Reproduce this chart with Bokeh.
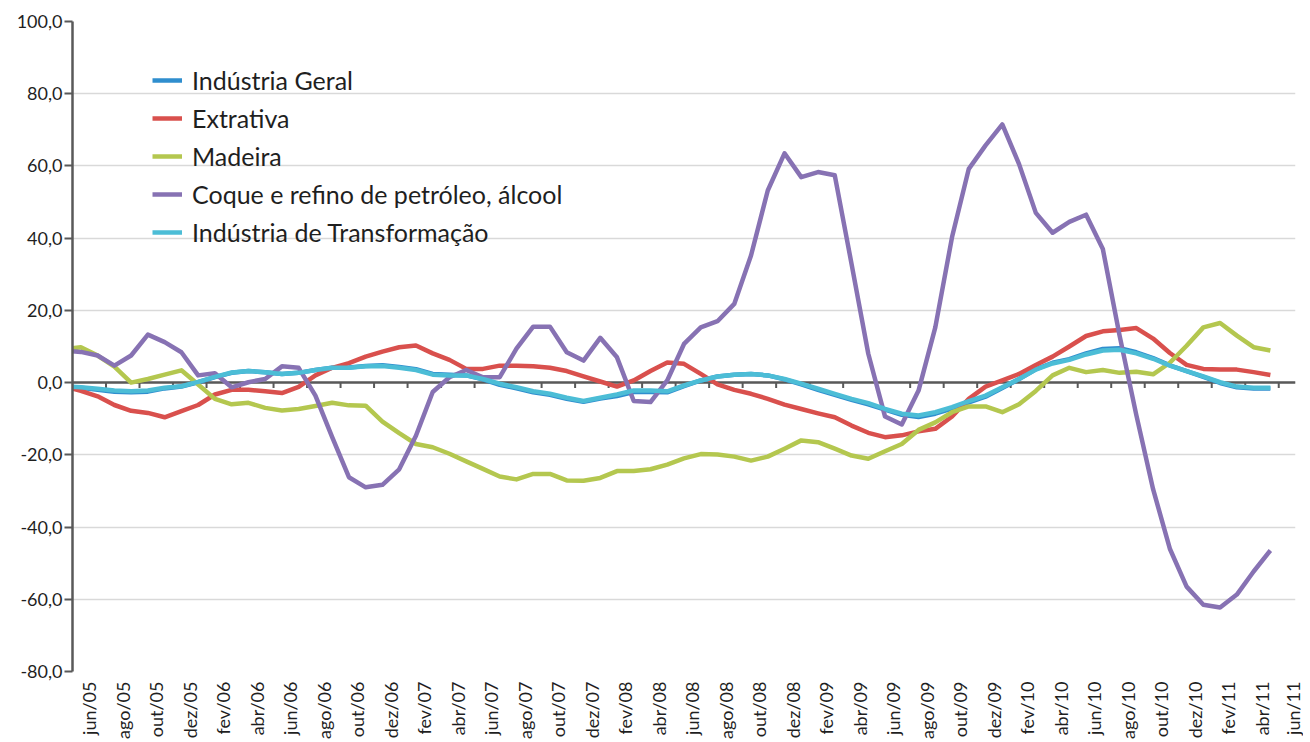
import math
from bokeh.plotting import figure
from bokeh.models import Span, FixedTicker, Legend, LegendItem, Range1d
from bokeh.embed import file_html
from bokeh.resources import INLINE

# x tick labels (every two months), from jun/05 to jun/11
x_labels = ["jun/05", "ago/05", "out/05", "dez/05", "fev/06", "abr/06", "jun/06", "ago/06",
            "out/06", "dez/06", "fev/07", "abr/07", "jun/07", "ago/07", "out/07", "dez/07",
            "fev/08", "abr/08", "jun/08", "ago/08", "out/08", "dez/08", "fev/09", "abr/09",
            "jun/09", "ago/09", "out/09", "dez/09", "fev/10", "abr/10", "jun/10", "ago/10",
            "out/10", "dez/10", "fev/11", "abr/11", "jun/11"]

y_ticks = [-80, -60, -40, -20, 0, 20, 40, 60, 80, 100]

# monthly observations: month offset relative to jun/05 (mai/05 .. mai/11)
months = list(range(-1, 72))

industria_geral = [-1.0, -1.4, -2.0, -2.5, -2.7, -2.5, -1.6, -1.1, 0.1, 1.5,
                   2.7, 3.2, 2.9, 2.4, 2.7, 3.5, 4.1, 4.2, 4.6, 4.8,
                   4.3, 3.7, 2.4, 2.2, 2.0, 0.9, -0.6, -1.6, -2.7, -3.4,
                   -4.5, -5.3, -4.4, -3.7, -2.6, -2.6, -2.7, -1.0, 0.6, 1.7,
                   2.2, 2.4, 2.0, 0.9, -0.5, -2.0, -3.4, -4.8, -6.0, -7.5,
                   -8.9, -9.5, -8.6, -7.2, -5.5, -3.9, -1.5, 1.0, 3.7, 5.5,
                   6.5, 8.1, 9.3, 9.5, 8.4, 6.8, 4.8, 3.2, 1.6, -0.1,
                   -1.3, -1.6, -1.6]

extrativa = [-1.0, -2.3, -3.8, -6.2, -7.8, -8.4, -9.6, -7.9, -6.2, -3.3,
             -2.0, -2.0, -2.4, -2.9, -1.2, 2.0, 4.1, 5.4, 7.2, 8.6,
             9.8, 10.3, 8.1, 6.3, 3.8, 3.8, 4.7, 4.7, 4.5, 4.1,
             3.2, 1.7, 0.3, -1.1, 0.6, 3.2, 5.6, 5.2, 2.4, -0.5,
             -2.0, -3.1, -4.5, -6.1, -7.3, -8.5, -9.6, -11.9, -13.9, -15.1,
             -14.6, -13.5, -12.8, -9.4, -4.5, -1.1, 0.6, 2.4, 4.9, 7.2,
             10.0, 12.9, 14.2, 14.6, 15.1, 12.2, 8.2, 4.9, 3.8, 3.6,
             3.6, 2.9, 2.1]

madeira = [9.2, 9.8, 7.5, 4.4, 0.0, 1.0, 2.2, 3.4, -0.5, -4.5,
           -6.0, -5.6, -7.0, -7.7, -7.3, -6.5, -5.6, -6.3, -6.4, -10.8,
           -14.0, -17.0, -17.9, -19.7, -21.8, -23.9, -26.0, -26.8, -25.3, -25.3,
           -27.1, -27.2, -26.4, -24.5, -24.5, -24.0, -22.7, -21.0, -19.8, -19.9,
           -20.5, -21.6, -20.5, -18.3, -16.0, -16.5, -18.3, -20.2, -21.1, -19.0,
           -17.0, -13.1, -11.0, -8.2, -6.6, -6.6, -8.2, -6.0, -2.3, 2.0,
           4.1, 2.9, 3.5, 2.7, 3.0, 2.3, 5.5, 10.2, 15.3, 16.5,
           13.0, 9.8, 8.9]

coque = [8.8, 8.5, 7.5, 4.7, 7.5, 13.3, 11.2, 8.4, 2.0, 2.6,
         -1.3, 0.1, 1.0, 4.5, 4.1, -3.6, -15.1, -26.2, -29.0, -28.3,
         -24.0, -14.7, -2.6, 1.5, 3.5, 1.5, 1.5, 9.4, 15.5, 15.5,
         8.4, 6.1, 12.4, 7.0, -5.1, -5.4, 0.6, 10.7, 15.3, 17.0,
         21.8, 35.2, 53.2, 63.5, 56.9, 58.3, 57.4, 32.9, 8.0, -9.4,
         -11.6, -2.2, 15.3, 40.3, 59.2, 65.7, 71.5, 60.5, 47.0, 41.5,
         44.5, 46.5, 37.0, 13.0, -9.0, -29.5, -46.0, -56.5, -61.5, -62.3,
         -58.7, -52.3, -46.5]

transformacao = [-1.0, -1.3, -1.7, -2.2, -2.4, -2.2, -1.4, -1.0, 0.2, 1.6,
                 2.8, 3.2, 2.9, 2.4, 2.7, 3.5, 4.1, 4.1, 4.5, 4.6,
                 4.1, 3.5, 2.2, 2.0, 2.0, 1.0, -0.3, -1.3, -2.4, -3.1,
                 -4.2, -5.1, -4.2, -3.3, -2.2, -2.2, -2.4, -0.8, 0.6, 1.7,
                 2.2, 2.4, 2.0, 1.0, -0.3, -1.7, -3.1, -4.5, -5.7, -7.3,
                 -8.6, -9.1, -8.2, -6.8, -5.1, -3.6, -1.3, 1.0, 3.6, 5.3,
                 6.3, 7.8, 8.9, 9.1, 8.1, 6.6, 4.7, 3.2, 1.7, 0.1,
                 -1.1, -1.4, -1.4]

series = [
    ("Indústria Geral", industria_geral, "#2F8ECE"),
    ("Extrativa", extrativa, "#D9504D"),
    ("Madeira", madeira, "#B4C74F"),
    ("Coque e refino de petróleo, álcool", coque, "#8772B3"),
    ("Indústria de Transformação", transformacao, "#4CBDD6"),
]

FONT = "Lato"
TEXT = "#1F1F1F"
AXIS = "#595959"

p = figure(width=1303, height=742, x_range=Range1d(-0.5, 72.5), y_range=Range1d(-80, 100),
           output_backend="svg", toolbar_location=None,
           min_border_left=72, min_border_right=8, min_border_top=21, min_border_bottom=71)
p.outline_line_color = None
p.background_fill_color = "white"
p.xgrid.visible = False
p.ygrid.grid_line_color = "#D9D9D9"
p.ygrid.grid_line_width = 1.3

# y axis
p.yaxis.ticker = FixedTicker(ticks=y_ticks)
p.yaxis.major_label_overrides = {t: f"{t:.1f}".replace(".", ",") for t in y_ticks}
p.yaxis.axis_line_color = AXIS
p.yaxis.axis_line_width = 2.5
p.yaxis.major_tick_line_color = AXIS
p.yaxis.major_tick_line_width = 2
p.yaxis.major_tick_out = 8
p.yaxis.major_tick_in = 0
p.yaxis.minor_tick_line_color = None
p.yaxis.major_label_standoff = 2
p.yaxis.major_label_text_font = FONT
p.yaxis.major_label_text_font_size = "18px"
p.yaxis.major_label_text_color = TEXT

# x axis (labels centred between tick marks)
label_pos = [2 * k + 0.5 for k in range(len(x_labels))]
p.xaxis.ticker = FixedTicker(ticks=label_pos)
p.xaxis.major_label_overrides = {pos: lab for pos, lab in zip(label_pos, x_labels)}
p.xaxis.axis_line_color = None
p.xaxis.major_tick_line_color = None
p.xaxis.major_tick_out = 0
p.xaxis.major_tick_in = 0
p.xaxis.minor_tick_line_color = None
p.xaxis.minor_tick_out = 0
p.xaxis.major_label_orientation = math.pi / 2
p.xaxis.major_label_standoff = 10
p.xaxis.major_label_text_font = FONT
p.xaxis.major_label_text_font_size = "18px"
p.xaxis.major_label_text_color = TEXT

# horizontal category axis crossing at zero, with its tick marks
p.add_layout(Span(location=0, dimension="width", line_color=AXIS, line_width=2.5, level="underlay"))
tick_pos = [2 * k - 0.5 for k in range(1, len(x_labels))]
p.segment(x0=tick_pos, y0=[0] * len(tick_pos), x1=tick_pos, y1=[-1.5] * len(tick_pos),
          line_color=AXIS, line_width=2)

items = []
for name, vals, col in series:
    r = p.line(months, vals, line_color=col, line_width=4.5, line_join="round")
    items.append(LegendItem(label=name, renderers=[r]))

legend = Legend(items=items, location=(80, 424), border_line_color=None,
                background_fill_alpha=0, label_text_font=FONT, label_text_font_size="25px",
                label_text_color=TEXT, glyph_width=30, glyph_height=30, label_height=30,
                spacing=8, label_standoff=10, padding=0, margin=0)
p.add_layout(legend)

open("out.html", "w").write(file_html(p, INLINE))
